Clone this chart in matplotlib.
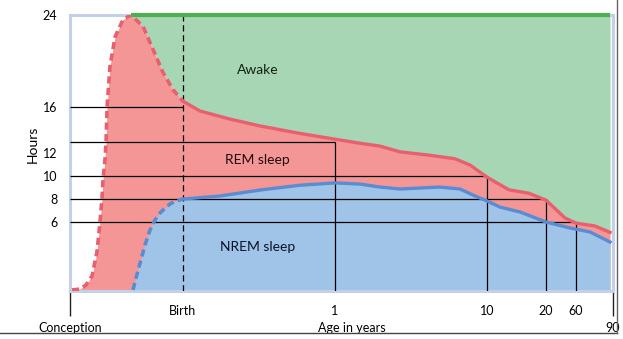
import numpy as np
import matplotlib
matplotlib.use('Agg')
import matplotlib.pyplot as plt
from matplotlib.lines import Line2D

plt.rcParams['font.family'] = ['Lato', 'DejaVu Sans']

# total sleep (top of REM band), age in years (negative = before birth)
total_ages = [-0.737, -0.684, -0.644, -0.604, -0.571, -0.551, -0.538, -0.531, -0.518,
              -0.511, -0.504, -0.485, -0.451, -0.398, -0.345, -0.265, -0.199, -0.133,
              -0.066, 0.0, 0.112, 0.309, 0.507, 0.77, 1.0, 2.48, 3.66, 4.85, 6.63, 8.1,
              9.0, 10.0, 13.7, 17.1, 20.0, 45.3, 60.0, 75.4, 87.6]
total_hours = [0.09, 0.17, 0.52, 1.3, 3.4, 6.0, 8.0, 9.65, 11.4,
               12.9, 16.0, 19.5, 22.1, 23.6, 24.0, 23.0, 21.0, 19.0,
               17.5, 16.5, 15.65, 14.95, 14.35, 13.7, 13.2, 12.85, 12.6, 12.1, 11.8, 11.5,
               10.95, 9.9, 8.8, 8.5, 7.9, 6.35, 5.9, 5.65, 5.1]

# NREM sleep
nrem_ages = [-0.332, -0.312, -0.285, -0.252, -0.219, -0.186, -0.153, -0.119, -0.086,
             -0.046, 0.0, 0.243, 0.507, 0.77, 1.0, 2.48, 3.66, 4.85, 7.2, 8.4, 9.29,
             10.0, 12.2, 15.6, 20.0, 52.0, 71.4, 87.6]
nrem_hours = [0.09, 1.13, 2.43, 4.0, 5.3, 6.17, 6.78, 7.2, 7.57,
              7.83, 8.0, 8.26, 8.78, 9.2, 9.4, 9.3, 9.04, 8.87, 9.04, 8.87, 8.26,
              7.83, 7.3, 6.87, 6.0, 5.48, 5.13, 4.26]

# guide lines: age -> hours
ref_ages = [0, 1, 10, 20, 60]
ref_hours = [16, 13, 10, 8, 6]
ref_labels = ['Birth', '1', '10', '20', '60']

ytick_vals = [6, 8, 10, 12, 16, 24]

# axis: piecewise stretched age scale
knot_ages = [-0.75, 0, 1, 10, 20, 60, 90]
knot_pos = [0, 113, 265, 417, 476, 506, 543]


def fwd(a):
    return np.interp(a, knot_ages, knot_pos)


def inv(p):
    return np.interp(p, knot_pos, knot_ages)


total_ages = np.array(total_ages)
total_hours = np.array(total_hours)
nrem_ages = np.array(nrem_ages)
nrem_hours = np.array(nrem_hours)

c_green_fill = '#a7d6b4'
c_green = '#4caf50'
c_red_fill = '#f59696'
c_red = '#e8606e'
c_blue_fill = '#a0c4e8'
c_blue = '#5a8cd2'
c_frame = '#c4d0e8'

fig = plt.figure(figsize=(6.23, 3.39), dpi=100)
ax = fig.add_axes([70 / 623, 1 - 291 / 339, 543 / 623, 276 / 339])
ax.set_xscale('function', functions=(fwd, inv))
ax.set_xlim(-0.75, 90)
ax.set_ylim(0, 24)

ipk = int(np.argmax(total_hours))
aw = total_ages >= total_ages[ipk]
ax.fill_between(total_ages[aw], total_hours[aw], 24, color=c_green_fill, lw=0)
ax.fill_between(total_ages, 0, total_hours, color=c_red_fill, lw=0)
ax.fill_between(nrem_ages, 0, nrem_hours, color=c_blue_fill, lw=0)

# guide lines
for a, h in zip(ref_ages, ref_hours):
    ax.hlines(h, -0.75, a, color='black', lw=0.9, zorder=3)
    if a == 0:
        ax.vlines(a, 0, 24, color='black', lw=0.9, linestyles=(0, (5, 3)), zorder=3)
    else:
        ax.vlines(a, 0, h, color='black', lw=0.9, zorder=3)

# curves: dashed before birth, solid after
pre = total_ages <= 0
post = total_ages >= 0
ax.plot(total_ages[pre], total_hours[pre], color=c_red, lw=2.6, ls=(0, (2, 1.2)), zorder=4)
ax.plot(total_ages[post], total_hours[post], color=c_red, lw=2.4, zorder=4,
        solid_joinstyle='round')
pre = nrem_ages <= 0
post = nrem_ages >= 0
ax.plot(nrem_ages[pre], nrem_hours[pre], color=c_blue, lw=2.6, ls=(0, (2, 1.2)), zorder=4)
ax.plot(nrem_ages[post], nrem_hours[post], color=c_blue, lw=2.4, zorder=4,
        solid_joinstyle='round')
ax.hlines(24, total_ages[ipk], total_ages[-1], color=c_green, lw=3.0, zorder=5,
          clip_on=False)

# region labels
ax.text(0.49, 19.2, 'Awake', fontsize=10, ha='center', va='center', color='#142014')
ax.text(0.49, 11.4, 'REM sleep', fontsize=10, ha='center', va='center', color='#200a0a')
ax.text(0.49, 3.8, 'NREM sleep', fontsize=10, ha='center', va='center', color='#0a1228')

# frame
for s in ax.spines.values():
    s.set_color(c_frame)
    s.set_linewidth(2.2)

# y ticks
ax.set_yticks(ytick_vals)
ax.tick_params(axis='y', which='major', length=0, pad=9, labelsize=9)
ax.set_yticks([12], minor=True)
ax.tick_params(axis='y', which='minor', direction='in', length=7, width=0.9, color='black')
ax.text(-0.068, 0.53, 'Hours', rotation=90, fontsize=10, ha='center', va='center',
        transform=ax.transAxes)

# x ticks
ax.set_xticks([-0.75, 90], ['Conception', '90'])
ax.tick_params(axis='x', which='major', length=18, width=1.0, color='#222222',
               pad=4, labelsize=9)
ax.set_xticks(ref_ages, ref_labels, minor=True)
ax.tick_params(axis='x', which='minor', length=0, pad=10, labelsize=9)
ax.text(0.519, -0.134, 'Age in years', fontsize=9, ha='center', va='center',
        transform=ax.transAxes)

# outer frame lines
fig.add_artist(Line2D([0, 617 / 623], [1 - 333 / 339] * 2, color='#444444', lw=1.0))
fig.add_artist(Line2D([617 / 623] * 2, [1 - 333 / 339, 1], color='#666666', lw=1.0))

plt.savefig('out.png', dpi=100)
